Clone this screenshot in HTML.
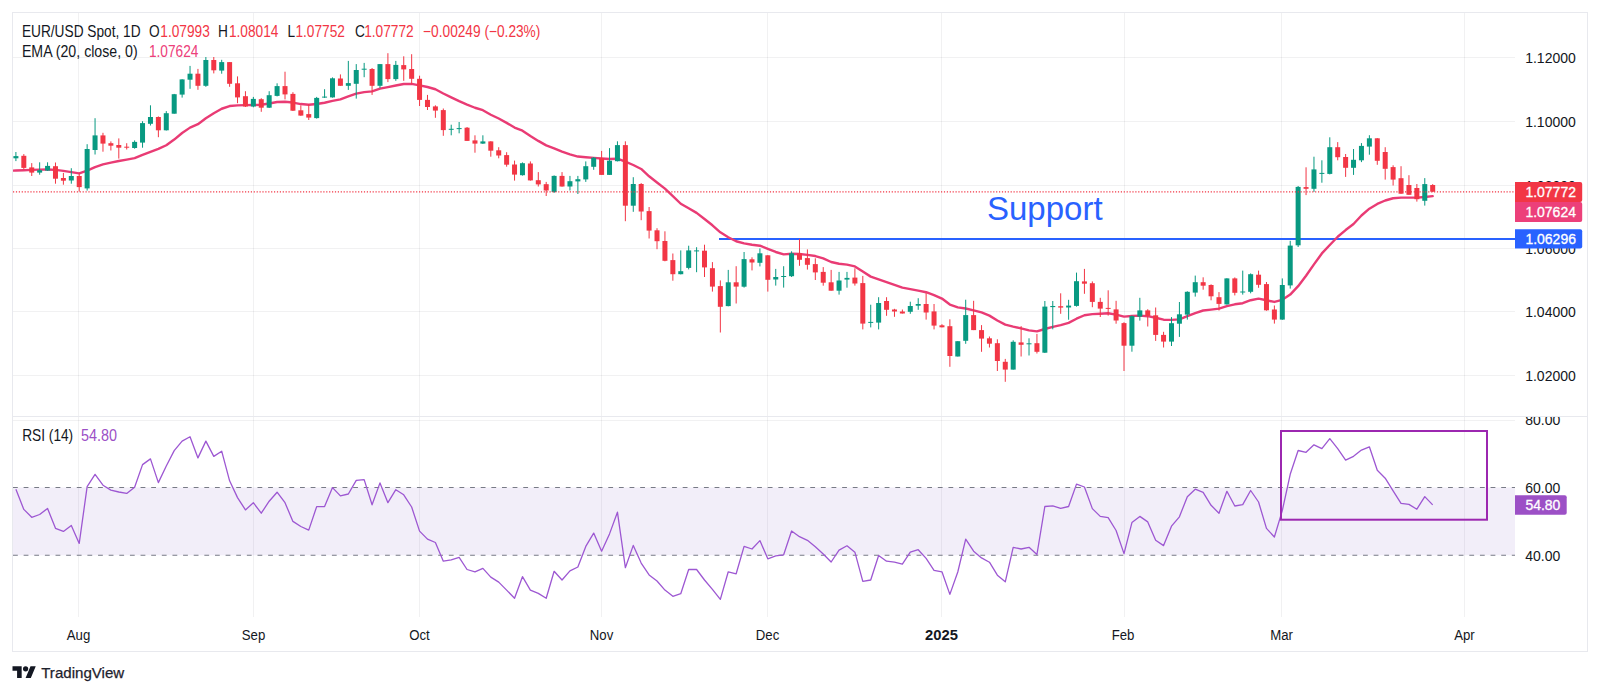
<!DOCTYPE html><html><head><meta charset="utf-8"><style>html,body{margin:0;padding:0;background:#fff;width:1600px;height:694px;overflow:hidden}svg{display:block}text{font-family:"Liberation Sans", sans-serif}</style></head><body>
<svg width="1600" height="694" viewBox="0 0 1600 694">
<rect x="0" y="0" width="1600" height="694" fill="#ffffff"/>
<defs><clipPath id="mp"><rect x="13" y="13" width="1502" height="403"/></clipPath><clipPath id="rp"><rect x="13" y="417" width="1502" height="200"/></clipPath><clipPath id="ap"><rect x="1515" y="417" width="72" height="200"/></clipPath></defs>
<line x1="13" y1="57.5" x2="1515" y2="57.5" stroke="rgba(42,46,57,0.065)" stroke-width="1"/>
<line x1="13" y1="121.5" x2="1515" y2="121.5" stroke="rgba(42,46,57,0.065)" stroke-width="1"/>
<line x1="13" y1="185.5" x2="1515" y2="185.5" stroke="rgba(42,46,57,0.065)" stroke-width="1"/>
<line x1="13" y1="248.5" x2="1515" y2="248.5" stroke="rgba(42,46,57,0.065)" stroke-width="1"/>
<line x1="13" y1="311.5" x2="1515" y2="311.5" stroke="rgba(42,46,57,0.065)" stroke-width="1"/>
<line x1="13" y1="375.5" x2="1515" y2="375.5" stroke="rgba(42,46,57,0.065)" stroke-width="1"/>
<line x1="78.5" y1="13" x2="78.5" y2="416" stroke="rgba(42,46,57,0.065)" stroke-width="1"/>
<line x1="78.5" y1="417" x2="78.5" y2="617" stroke="rgba(42,46,57,0.065)" stroke-width="1"/>
<line x1="253.5" y1="13" x2="253.5" y2="416" stroke="rgba(42,46,57,0.065)" stroke-width="1"/>
<line x1="253.5" y1="417" x2="253.5" y2="617" stroke="rgba(42,46,57,0.065)" stroke-width="1"/>
<line x1="419.5" y1="13" x2="419.5" y2="416" stroke="rgba(42,46,57,0.065)" stroke-width="1"/>
<line x1="419.5" y1="417" x2="419.5" y2="617" stroke="rgba(42,46,57,0.065)" stroke-width="1"/>
<line x1="601.5" y1="13" x2="601.5" y2="416" stroke="rgba(42,46,57,0.065)" stroke-width="1"/>
<line x1="601.5" y1="417" x2="601.5" y2="617" stroke="rgba(42,46,57,0.065)" stroke-width="1"/>
<line x1="767.5" y1="13" x2="767.5" y2="416" stroke="rgba(42,46,57,0.065)" stroke-width="1"/>
<line x1="767.5" y1="417" x2="767.5" y2="617" stroke="rgba(42,46,57,0.065)" stroke-width="1"/>
<line x1="941.5" y1="13" x2="941.5" y2="416" stroke="rgba(42,46,57,0.065)" stroke-width="1"/>
<line x1="941.5" y1="417" x2="941.5" y2="617" stroke="rgba(42,46,57,0.065)" stroke-width="1"/>
<line x1="1124.5" y1="13" x2="1124.5" y2="416" stroke="rgba(42,46,57,0.065)" stroke-width="1"/>
<line x1="1124.5" y1="417" x2="1124.5" y2="617" stroke="rgba(42,46,57,0.065)" stroke-width="1"/>
<line x1="1281.5" y1="13" x2="1281.5" y2="416" stroke="rgba(42,46,57,0.065)" stroke-width="1"/>
<line x1="1281.5" y1="417" x2="1281.5" y2="617" stroke="rgba(42,46,57,0.065)" stroke-width="1"/>
<line x1="1464.5" y1="13" x2="1464.5" y2="416" stroke="rgba(42,46,57,0.065)" stroke-width="1"/>
<line x1="1464.5" y1="417" x2="1464.5" y2="617" stroke="rgba(42,46,57,0.065)" stroke-width="1"/>
<rect x="13" y="487.5" width="1502" height="67.8" fill="#7e57c2" fill-opacity="0.1"/>
<line x1="13" y1="420.5" x2="1515" y2="420.5" stroke="rgba(42,46,57,0.065)" stroke-width="1"/>
<line x1="13" y1="487.5" x2="1515" y2="487.5" stroke="#787b86" stroke-width="1.1" stroke-dasharray="4.8 5.83"/>
<line x1="13" y1="555.3" x2="1515" y2="555.3" stroke="#787b86" stroke-width="1.1" stroke-dasharray="4.8 5.83"/>
<g clip-path="url(#mp)">
<line x1="719" y1="239" x2="1515" y2="239" stroke="#2962ff" stroke-width="2"/>
<polyline points="13.00,170.60 15.90,170.53 23.82,170.21 31.73,169.85 39.65,169.61 47.56,169.56 55.48,169.91 63.39,170.89 71.31,172.09 79.22,173.34 87.14,170.70 95.05,167.04 102.97,164.42 110.88,162.60 118.80,160.97 126.71,159.58 134.62,158.11 142.54,154.84 150.46,151.80 158.37,148.95 166.28,145.21 174.20,139.60 182.12,132.97 190.03,127.62 197.94,124.17 205.86,118.26 213.78,113.26 221.69,108.74 229.61,106.05 237.52,105.35 245.44,105.09 253.35,104.99 261.26,104.78 269.18,103.54 277.09,102.04 285.01,101.73 292.92,102.56 300.84,104.06 308.75,104.78 316.67,104.05 324.58,102.76 332.50,100.90 340.41,99.32 348.33,96.39 356.25,93.65 364.16,92.08 372.07,91.40 379.99,88.67 387.90,87.11 395.82,85.54 403.73,84.00 411.65,83.84 419.56,85.34 427.48,86.99 435.39,89.26 443.31,93.48 451.22,97.35 459.14,101.20 467.06,104.70 474.97,107.75 482.88,110.18 490.80,114.72 498.71,118.52 506.63,122.86 514.54,127.59 522.46,130.65 530.38,135.96 538.29,140.90 546.20,145.41 554.12,148.32 562.03,151.61 569.95,154.45 577.87,156.57 585.78,157.23 593.69,157.88 601.61,158.47 609.52,158.97 617.44,158.72 625.36,161.72 633.27,164.99 641.18,168.97 649.10,176.27 657.01,182.47 664.93,188.65 672.85,196.08 680.76,203.75 688.67,208.29 696.59,212.91 704.50,219.05 712.42,225.29 720.34,232.32 728.25,237.20 736.16,241.24 744.08,243.40 752.00,244.79 759.91,245.70 767.82,248.80 775.74,251.98 783.65,254.38 791.57,253.79 799.49,254.05 807.40,254.91 815.31,256.03 823.23,258.46 831.14,262.01 839.06,263.79 846.98,264.66 854.89,266.42 862.80,271.56 870.72,276.62 878.63,279.41 886.55,282.19 894.47,284.99 902.38,287.68 910.29,289.15 918.21,290.57 926.12,292.21 934.04,295.09 941.95,298.55 949.87,304.56 957.78,307.32 965.70,308.51 973.62,310.32 981.53,312.46 989.44,315.62 997.36,320.47 1005.27,324.58 1013.19,326.57 1021.11,328.37 1029.02,330.38 1036.93,331.39 1044.85,329.02 1052.77,326.88 1060.68,325.06 1068.60,322.81 1076.51,318.72 1084.43,315.24 1092.34,314.17 1100.26,313.70 1108.17,313.28 1116.09,314.66 1124.00,316.66 1131.92,315.95 1139.83,315.67 1147.75,316.18 1155.66,317.75 1163.58,319.70 1171.49,319.85 1179.41,319.37 1187.32,316.20 1195.24,313.02 1203.15,310.49 1211.07,309.62 1218.98,308.61 1226.90,306.09 1234.81,304.30 1242.73,303.23 1250.64,300.21 1258.56,298.63 1266.47,300.29 1274.38,301.94 1282.30,299.80 1290.22,294.61 1298.13,286.19 1306.05,275.72 1313.96,264.38 1321.88,253.44 1329.79,244.98 1337.71,236.76 1345.62,230.04 1353.54,224.00 1361.45,215.48 1369.37,208.71 1377.28,203.95 1385.20,200.49 1393.11,198.26 1401.03,197.60 1408.94,197.60 1416.86,197.61 1424.77,196.94 1432.69,196.10" fill="none" stroke="#e93b74" stroke-width="2.4" stroke-linejoin="round" stroke-linecap="round"/>
<rect x="15.40" y="152.0" width="1" height="9.1" fill="#089981"/>
<rect x="13.40" y="156.1" width="5" height="2.2" fill="#089981"/>
<rect x="23.32" y="154.1" width="1" height="15.3" fill="#f23645"/>
<rect x="21.32" y="155.8" width="5" height="12.1" fill="#f23645"/>
<rect x="31.23" y="163.1" width="1" height="12.9" fill="#f23645"/>
<rect x="29.23" y="167.4" width="5" height="5.2" fill="#f23645"/>
<rect x="39.15" y="162.3" width="1" height="12.4" fill="#089981"/>
<rect x="37.15" y="170.2" width="5" height="2.4" fill="#089981"/>
<rect x="47.06" y="162.3" width="1" height="8.6" fill="#089981"/>
<rect x="45.06" y="165.9" width="5" height="4.7" fill="#089981"/>
<rect x="54.98" y="162.5" width="1" height="21.2" fill="#f23645"/>
<rect x="52.98" y="166.2" width="5" height="12.5" fill="#f23645"/>
<rect x="62.89" y="172.9" width="1" height="11.8" fill="#f23645"/>
<rect x="60.89" y="178.0" width="5" height="2.7" fill="#f23645"/>
<rect x="70.81" y="168.2" width="1" height="15.5" fill="#089981"/>
<rect x="68.81" y="176.0" width="5" height="4.5" fill="#089981"/>
<rect x="78.72" y="173.2" width="1" height="18.4" fill="#f23645"/>
<rect x="76.72" y="176.0" width="5" height="11.1" fill="#f23645"/>
<rect x="86.64" y="144.2" width="1" height="46.4" fill="#089981"/>
<rect x="84.64" y="149.0" width="5" height="39.4" fill="#089981"/>
<rect x="94.55" y="118.2" width="1" height="36.3" fill="#089981"/>
<rect x="92.55" y="135.4" width="5" height="14.6" fill="#089981"/>
<rect x="102.47" y="132.8" width="1" height="18.9" fill="#f23645"/>
<rect x="100.47" y="135.4" width="5" height="8.2" fill="#f23645"/>
<rect x="110.38" y="141.4" width="1" height="9.1" fill="#f23645"/>
<rect x="108.38" y="143.2" width="5" height="2.5" fill="#f23645"/>
<rect x="118.30" y="138.4" width="1" height="20.2" fill="#f23645"/>
<rect x="116.30" y="145.0" width="5" height="2.7" fill="#f23645"/>
<rect x="126.21" y="143.2" width="1" height="6.3" fill="#f23645"/>
<rect x="124.21" y="146.7" width="5" height="1.0" fill="#f23645"/>
<rect x="134.12" y="140.4" width="1" height="8.3" fill="#089981"/>
<rect x="132.12" y="141.9" width="5" height="6.1" fill="#089981"/>
<rect x="142.04" y="121.2" width="1" height="26.5" fill="#089981"/>
<rect x="140.04" y="123.1" width="5" height="19.5" fill="#089981"/>
<rect x="149.96" y="105.3" width="1" height="20.2" fill="#089981"/>
<rect x="147.96" y="117.0" width="5" height="6.8" fill="#089981"/>
<rect x="157.87" y="116.4" width="1" height="20.8" fill="#f23645"/>
<rect x="155.87" y="117.0" width="5" height="13.3" fill="#f23645"/>
<rect x="165.78" y="111.1" width="1" height="19.4" fill="#089981"/>
<rect x="163.78" y="113.2" width="5" height="17.1" fill="#089981"/>
<rect x="173.70" y="93.9" width="1" height="19.8" fill="#089981"/>
<rect x="171.70" y="94.2" width="5" height="19.5" fill="#089981"/>
<rect x="181.62" y="79.2" width="1" height="18.4" fill="#089981"/>
<rect x="179.62" y="79.4" width="5" height="15.2" fill="#089981"/>
<rect x="189.53" y="65.9" width="1" height="22.9" fill="#089981"/>
<rect x="187.53" y="73.7" width="5" height="6.0" fill="#089981"/>
<rect x="197.44" y="68.9" width="1" height="20.9" fill="#f23645"/>
<rect x="195.44" y="73.7" width="5" height="12.1" fill="#f23645"/>
<rect x="205.36" y="57.0" width="1" height="29.8" fill="#089981"/>
<rect x="203.36" y="60.0" width="5" height="25.8" fill="#089981"/>
<rect x="213.28" y="57.0" width="1" height="16.4" fill="#f23645"/>
<rect x="211.28" y="60.0" width="5" height="10.3" fill="#f23645"/>
<rect x="221.19" y="59.8" width="1" height="13.9" fill="#089981"/>
<rect x="219.19" y="62.1" width="5" height="8.5" fill="#089981"/>
<rect x="229.11" y="62.1" width="1" height="24.7" fill="#f23645"/>
<rect x="227.11" y="62.1" width="5" height="21.7" fill="#f23645"/>
<rect x="237.02" y="76.4" width="1" height="26.8" fill="#f23645"/>
<rect x="235.02" y="83.3" width="5" height="14.1" fill="#f23645"/>
<rect x="244.94" y="91.2" width="1" height="15.8" fill="#f23645"/>
<rect x="242.94" y="96.2" width="5" height="10.3" fill="#f23645"/>
<rect x="252.85" y="96.9" width="1" height="10.4" fill="#089981"/>
<rect x="250.85" y="98.9" width="5" height="7.6" fill="#089981"/>
<rect x="260.76" y="98.2" width="1" height="13.6" fill="#f23645"/>
<rect x="258.76" y="99.2" width="5" height="8.5" fill="#f23645"/>
<rect x="268.68" y="91.2" width="1" height="16.8" fill="#089981"/>
<rect x="266.68" y="95.2" width="5" height="12.5" fill="#089981"/>
<rect x="276.59" y="83.3" width="1" height="13.1" fill="#089981"/>
<rect x="274.59" y="86.1" width="5" height="9.8" fill="#089981"/>
<rect x="284.51" y="71.7" width="1" height="27.7" fill="#f23645"/>
<rect x="282.51" y="86.1" width="5" height="8.3" fill="#f23645"/>
<rect x="292.42" y="92.2" width="1" height="18.8" fill="#f23645"/>
<rect x="290.42" y="93.9" width="5" height="16.8" fill="#f23645"/>
<rect x="300.34" y="105.3" width="1" height="10.5" fill="#f23645"/>
<rect x="298.34" y="110.3" width="5" height="5.3" fill="#f23645"/>
<rect x="308.25" y="104.0" width="1" height="16.0" fill="#f23645"/>
<rect x="306.25" y="114.1" width="5" height="3.5" fill="#f23645"/>
<rect x="316.17" y="96.9" width="1" height="21.7" fill="#089981"/>
<rect x="314.17" y="97.9" width="5" height="20.2" fill="#089981"/>
<rect x="324.08" y="89.2" width="1" height="8.7" fill="#089981"/>
<rect x="322.08" y="96.6" width="5" height="1.0" fill="#089981"/>
<rect x="332.00" y="77.4" width="1" height="20.2" fill="#089981"/>
<rect x="330.00" y="78.3" width="5" height="19.1" fill="#089981"/>
<rect x="339.91" y="74.4" width="1" height="11.4" fill="#f23645"/>
<rect x="337.91" y="78.5" width="5" height="7.3" fill="#f23645"/>
<rect x="347.83" y="60.9" width="1" height="29.0" fill="#089981"/>
<rect x="345.83" y="83.1" width="5" height="2.7" fill="#089981"/>
<rect x="355.75" y="64.1" width="1" height="34.5" fill="#089981"/>
<rect x="353.75" y="70.0" width="5" height="13.8" fill="#089981"/>
<rect x="363.66" y="62.9" width="1" height="14.3" fill="#089981"/>
<rect x="361.66" y="68.7" width="5" height="1.0" fill="#089981"/>
<rect x="371.57" y="68.0" width="1" height="26.9" fill="#f23645"/>
<rect x="369.57" y="69.0" width="5" height="16.8" fill="#f23645"/>
<rect x="379.49" y="64.1" width="1" height="24.0" fill="#089981"/>
<rect x="377.49" y="64.1" width="5" height="21.7" fill="#089981"/>
<rect x="387.40" y="53.2" width="1" height="28.9" fill="#f23645"/>
<rect x="385.40" y="64.1" width="5" height="15.0" fill="#f23645"/>
<rect x="395.32" y="60.9" width="1" height="19.9" fill="#089981"/>
<rect x="393.32" y="64.9" width="5" height="14.2" fill="#089981"/>
<rect x="403.23" y="56.3" width="1" height="24.5" fill="#f23645"/>
<rect x="401.23" y="65.1" width="5" height="4.3" fill="#f23645"/>
<rect x="411.15" y="54.2" width="1" height="30.1" fill="#f23645"/>
<rect x="409.15" y="69.0" width="5" height="9.8" fill="#f23645"/>
<rect x="419.06" y="75.7" width="1" height="30.3" fill="#f23645"/>
<rect x="417.06" y="78.8" width="5" height="21.1" fill="#f23645"/>
<rect x="426.98" y="94.9" width="1" height="15.1" fill="#f23645"/>
<rect x="424.98" y="99.9" width="5" height="7.1" fill="#f23645"/>
<rect x="434.89" y="105.3" width="1" height="12.5" fill="#f23645"/>
<rect x="432.89" y="106.4" width="5" height="4.2" fill="#f23645"/>
<rect x="442.81" y="108.5" width="1" height="27.3" fill="#f23645"/>
<rect x="440.81" y="110.1" width="5" height="20.0" fill="#f23645"/>
<rect x="450.72" y="124.7" width="1" height="10.6" fill="#089981"/>
<rect x="448.72" y="128.8" width="5" height="1.0" fill="#089981"/>
<rect x="458.64" y="122.0" width="1" height="11.3" fill="#089981"/>
<rect x="456.64" y="128.1" width="5" height="1.0" fill="#089981"/>
<rect x="466.56" y="127.0" width="1" height="13.9" fill="#f23645"/>
<rect x="464.56" y="127.7" width="5" height="13.2" fill="#f23645"/>
<rect x="474.47" y="135.3" width="1" height="17.4" fill="#f23645"/>
<rect x="472.47" y="140.4" width="5" height="3.2" fill="#f23645"/>
<rect x="482.38" y="135.3" width="1" height="8.6" fill="#089981"/>
<rect x="480.38" y="141.4" width="5" height="2.2" fill="#089981"/>
<rect x="490.30" y="141.2" width="1" height="15.5" fill="#f23645"/>
<rect x="488.30" y="141.4" width="5" height="9.3" fill="#f23645"/>
<rect x="498.21" y="147.2" width="1" height="11.1" fill="#f23645"/>
<rect x="496.21" y="150.3" width="5" height="5.2" fill="#f23645"/>
<rect x="506.13" y="152.2" width="1" height="14.5" fill="#f23645"/>
<rect x="504.13" y="155.1" width="5" height="9.6" fill="#f23645"/>
<rect x="514.04" y="160.6" width="1" height="20.0" fill="#f23645"/>
<rect x="512.04" y="164.5" width="5" height="10.1" fill="#f23645"/>
<rect x="521.96" y="162.4" width="1" height="13.2" fill="#089981"/>
<rect x="519.96" y="163.2" width="5" height="12.0" fill="#089981"/>
<rect x="529.88" y="161.4" width="1" height="19.2" fill="#f23645"/>
<rect x="527.88" y="163.5" width="5" height="16.9" fill="#f23645"/>
<rect x="537.79" y="172.1" width="1" height="14.4" fill="#f23645"/>
<rect x="535.79" y="180.2" width="5" height="4.2" fill="#f23645"/>
<rect x="545.70" y="181.9" width="1" height="14.1" fill="#f23645"/>
<rect x="543.70" y="184.2" width="5" height="6.3" fill="#f23645"/>
<rect x="553.62" y="175.4" width="1" height="17.6" fill="#089981"/>
<rect x="551.62" y="175.9" width="5" height="16.1" fill="#089981"/>
<rect x="561.53" y="172.1" width="1" height="14.6" fill="#f23645"/>
<rect x="559.53" y="175.9" width="5" height="10.6" fill="#f23645"/>
<rect x="569.45" y="175.9" width="1" height="14.6" fill="#089981"/>
<rect x="567.45" y="181.2" width="5" height="5.3" fill="#089981"/>
<rect x="577.37" y="175.9" width="1" height="18.1" fill="#089981"/>
<rect x="575.37" y="179.2" width="5" height="2.2" fill="#089981"/>
<rect x="585.28" y="161.4" width="1" height="20.5" fill="#089981"/>
<rect x="583.28" y="166.2" width="5" height="13.2" fill="#089981"/>
<rect x="593.19" y="157.0" width="1" height="12.8" fill="#089981"/>
<rect x="591.19" y="157.7" width="5" height="9.1" fill="#089981"/>
<rect x="601.11" y="150.9" width="1" height="24.0" fill="#f23645"/>
<rect x="599.11" y="158.2" width="5" height="16.7" fill="#f23645"/>
<rect x="609.02" y="148.1" width="1" height="26.8" fill="#089981"/>
<rect x="607.02" y="160.7" width="5" height="14.2" fill="#089981"/>
<rect x="616.94" y="141.3" width="1" height="20.1" fill="#089981"/>
<rect x="614.94" y="145.1" width="5" height="16.1" fill="#089981"/>
<rect x="624.86" y="141.3" width="1" height="79.9" fill="#f23645"/>
<rect x="622.86" y="145.1" width="5" height="60.6" fill="#f23645"/>
<rect x="632.77" y="177.2" width="1" height="34.6" fill="#089981"/>
<rect x="630.77" y="184.0" width="5" height="21.7" fill="#089981"/>
<rect x="640.68" y="183.1" width="1" height="37.1" fill="#f23645"/>
<rect x="638.68" y="184.0" width="5" height="27.5" fill="#f23645"/>
<rect x="648.60" y="207.0" width="1" height="31.5" fill="#f23645"/>
<rect x="646.60" y="211.1" width="5" height="19.5" fill="#f23645"/>
<rect x="656.51" y="228.2" width="1" height="21.0" fill="#f23645"/>
<rect x="654.51" y="230.3" width="5" height="10.9" fill="#f23645"/>
<rect x="664.43" y="231.3" width="1" height="30.0" fill="#f23645"/>
<rect x="662.43" y="241.0" width="5" height="19.8" fill="#f23645"/>
<rect x="672.35" y="253.5" width="1" height="27.2" fill="#f23645"/>
<rect x="670.35" y="260.1" width="5" height="14.1" fill="#f23645"/>
<rect x="680.26" y="250.4" width="1" height="24.0" fill="#089981"/>
<rect x="678.26" y="271.2" width="5" height="3.0" fill="#089981"/>
<rect x="688.17" y="245.7" width="1" height="23.7" fill="#089981"/>
<rect x="686.17" y="250.4" width="5" height="17.5" fill="#089981"/>
<rect x="696.09" y="247.2" width="1" height="25.0" fill="#089981"/>
<rect x="694.09" y="250.4" width="5" height="1.0" fill="#089981"/>
<rect x="704.00" y="244.7" width="1" height="32.3" fill="#f23645"/>
<rect x="702.00" y="250.7" width="5" height="16.7" fill="#f23645"/>
<rect x="711.92" y="262.1" width="1" height="29.5" fill="#f23645"/>
<rect x="709.92" y="268.2" width="5" height="18.4" fill="#f23645"/>
<rect x="719.84" y="280.4" width="1" height="52.1" fill="#f23645"/>
<rect x="717.84" y="286.1" width="5" height="20.7" fill="#f23645"/>
<rect x="727.75" y="269.9" width="1" height="36.4" fill="#089981"/>
<rect x="725.75" y="282.3" width="5" height="23.8" fill="#089981"/>
<rect x="735.66" y="266.2" width="1" height="37.3" fill="#f23645"/>
<rect x="733.66" y="282.3" width="5" height="4.3" fill="#f23645"/>
<rect x="743.58" y="252.0" width="1" height="35.6" fill="#089981"/>
<rect x="741.58" y="259.1" width="5" height="27.6" fill="#089981"/>
<rect x="751.50" y="257.3" width="1" height="13.1" fill="#f23645"/>
<rect x="749.50" y="259.3" width="5" height="3.2" fill="#f23645"/>
<rect x="759.41" y="248.4" width="1" height="18.0" fill="#089981"/>
<rect x="757.41" y="253.3" width="5" height="9.5" fill="#089981"/>
<rect x="767.32" y="255.1" width="1" height="36.5" fill="#f23645"/>
<rect x="765.32" y="255.3" width="5" height="24.5" fill="#f23645"/>
<rect x="775.24" y="268.9" width="1" height="16.7" fill="#089981"/>
<rect x="773.24" y="277.0" width="5" height="2.5" fill="#089981"/>
<rect x="783.15" y="266.2" width="1" height="21.4" fill="#089981"/>
<rect x="781.15" y="276.0" width="5" height="1.0" fill="#089981"/>
<rect x="791.07" y="251.3" width="1" height="25.7" fill="#089981"/>
<rect x="789.07" y="253.3" width="5" height="22.9" fill="#089981"/>
<rect x="798.99" y="238.9" width="1" height="26.9" fill="#f23645"/>
<rect x="796.99" y="253.4" width="5" height="6.4" fill="#f23645"/>
<rect x="806.90" y="249.4" width="1" height="20.2" fill="#f23645"/>
<rect x="804.90" y="258.1" width="5" height="6.7" fill="#f23645"/>
<rect x="814.81" y="258.3" width="1" height="21.7" fill="#f23645"/>
<rect x="812.81" y="264.1" width="5" height="8.3" fill="#f23645"/>
<rect x="822.73" y="267.1" width="1" height="18.6" fill="#f23645"/>
<rect x="820.73" y="271.9" width="5" height="10.8" fill="#f23645"/>
<rect x="830.64" y="269.9" width="1" height="20.8" fill="#f23645"/>
<rect x="828.64" y="282.3" width="5" height="8.4" fill="#f23645"/>
<rect x="838.56" y="271.9" width="1" height="22.7" fill="#089981"/>
<rect x="836.56" y="280.5" width="5" height="10.2" fill="#089981"/>
<rect x="846.48" y="271.9" width="1" height="15.8" fill="#089981"/>
<rect x="844.48" y="277.9" width="5" height="1.7" fill="#089981"/>
<rect x="854.39" y="268.3" width="1" height="17.3" fill="#f23645"/>
<rect x="852.39" y="277.6" width="5" height="5.9" fill="#f23645"/>
<rect x="862.30" y="275.9" width="1" height="53.5" fill="#f23645"/>
<rect x="860.30" y="283.1" width="5" height="40.5" fill="#f23645"/>
<rect x="870.22" y="304.7" width="1" height="22.7" fill="#089981"/>
<rect x="868.22" y="321.9" width="5" height="1.0" fill="#089981"/>
<rect x="878.13" y="297.2" width="1" height="32.2" fill="#089981"/>
<rect x="876.13" y="303.0" width="5" height="19.6" fill="#089981"/>
<rect x="886.05" y="297.2" width="1" height="18.6" fill="#f23645"/>
<rect x="884.05" y="301.0" width="5" height="8.8" fill="#f23645"/>
<rect x="893.97" y="308.8" width="1" height="8.0" fill="#f23645"/>
<rect x="891.97" y="309.5" width="5" height="2.0" fill="#f23645"/>
<rect x="901.88" y="309.5" width="1" height="4.0" fill="#f23645"/>
<rect x="899.88" y="311.5" width="5" height="2.0" fill="#f23645"/>
<rect x="909.79" y="301.7" width="1" height="12.1" fill="#089981"/>
<rect x="907.79" y="306.0" width="5" height="5.8" fill="#089981"/>
<rect x="917.71" y="298.2" width="1" height="11.6" fill="#089981"/>
<rect x="915.71" y="304.0" width="5" height="1.7" fill="#089981"/>
<rect x="925.62" y="293.1" width="1" height="26.5" fill="#f23645"/>
<rect x="923.62" y="304.0" width="5" height="8.5" fill="#f23645"/>
<rect x="933.54" y="304.0" width="1" height="25.4" fill="#f23645"/>
<rect x="931.54" y="311.4" width="5" height="14.2" fill="#f23645"/>
<rect x="941.45" y="324.2" width="1" height="3.2" fill="#f23645"/>
<rect x="939.45" y="325.3" width="5" height="2.0" fill="#f23645"/>
<rect x="949.37" y="319.3" width="1" height="47.5" fill="#f23645"/>
<rect x="947.37" y="326.2" width="5" height="29.8" fill="#f23645"/>
<rect x="957.28" y="341.2" width="1" height="15.3" fill="#089981"/>
<rect x="955.28" y="341.2" width="5" height="15.3" fill="#089981"/>
<rect x="965.20" y="299.7" width="1" height="44.1" fill="#089981"/>
<rect x="963.20" y="315.1" width="5" height="25.7" fill="#089981"/>
<rect x="973.12" y="300.8" width="1" height="29.3" fill="#f23645"/>
<rect x="971.12" y="315.1" width="5" height="15.0" fill="#f23645"/>
<rect x="981.03" y="325.1" width="1" height="26.7" fill="#f23645"/>
<rect x="979.03" y="330.1" width="5" height="8.5" fill="#f23645"/>
<rect x="988.94" y="336.5" width="1" height="11.0" fill="#f23645"/>
<rect x="986.94" y="338.3" width="5" height="5.4" fill="#f23645"/>
<rect x="996.86" y="339.3" width="1" height="31.7" fill="#f23645"/>
<rect x="994.86" y="343.2" width="5" height="17.8" fill="#f23645"/>
<rect x="1004.77" y="358.9" width="1" height="22.9" fill="#f23645"/>
<rect x="1002.77" y="361.8" width="5" height="7.8" fill="#f23645"/>
<rect x="1012.69" y="340.3" width="1" height="29.3" fill="#089981"/>
<rect x="1010.69" y="341.8" width="5" height="27.8" fill="#089981"/>
<rect x="1020.61" y="326.1" width="1" height="30.4" fill="#f23645"/>
<rect x="1018.61" y="342.4" width="5" height="2.4" fill="#f23645"/>
<rect x="1028.52" y="338.3" width="1" height="17.2" fill="#089981"/>
<rect x="1026.52" y="343.3" width="5" height="1.0" fill="#089981"/>
<rect x="1036.43" y="333.9" width="1" height="19.6" fill="#f23645"/>
<rect x="1034.43" y="343.2" width="5" height="8.6" fill="#f23645"/>
<rect x="1044.35" y="301.0" width="1" height="52.0" fill="#089981"/>
<rect x="1042.35" y="306.6" width="5" height="46.1" fill="#089981"/>
<rect x="1052.27" y="301.0" width="1" height="28.3" fill="#089981"/>
<rect x="1050.27" y="306.0" width="5" height="1.1" fill="#089981"/>
<rect x="1060.18" y="293.3" width="1" height="20.5" fill="#f23645"/>
<rect x="1058.18" y="306.2" width="5" height="1.4" fill="#f23645"/>
<rect x="1068.10" y="299.8" width="1" height="19.9" fill="#089981"/>
<rect x="1066.10" y="305.6" width="5" height="1.9" fill="#089981"/>
<rect x="1076.01" y="272.6" width="1" height="34.0" fill="#089981"/>
<rect x="1074.01" y="281.2" width="5" height="24.7" fill="#089981"/>
<rect x="1083.93" y="268.9" width="1" height="24.9" fill="#f23645"/>
<rect x="1081.93" y="281.4" width="5" height="2.3" fill="#f23645"/>
<rect x="1091.84" y="281.4" width="1" height="25.8" fill="#f23645"/>
<rect x="1089.84" y="283.2" width="5" height="18.7" fill="#f23645"/>
<rect x="1099.76" y="297.8" width="1" height="19.2" fill="#f23645"/>
<rect x="1097.76" y="301.9" width="5" height="6.7" fill="#f23645"/>
<rect x="1107.67" y="290.3" width="1" height="25.3" fill="#f23645"/>
<rect x="1105.67" y="307.9" width="5" height="1.0" fill="#f23645"/>
<rect x="1115.59" y="300.8" width="1" height="22.9" fill="#f23645"/>
<rect x="1113.59" y="309.4" width="5" height="11.1" fill="#f23645"/>
<rect x="1123.50" y="322.2" width="1" height="48.8" fill="#f23645"/>
<rect x="1121.50" y="323.1" width="5" height="22.6" fill="#f23645"/>
<rect x="1131.42" y="315.5" width="1" height="36.2" fill="#089981"/>
<rect x="1129.42" y="316.1" width="5" height="29.6" fill="#089981"/>
<rect x="1139.33" y="297.8" width="1" height="22.8" fill="#089981"/>
<rect x="1137.33" y="310.4" width="5" height="6.2" fill="#089981"/>
<rect x="1147.25" y="309.2" width="1" height="17.3" fill="#f23645"/>
<rect x="1145.25" y="310.4" width="5" height="5.5" fill="#f23645"/>
<rect x="1155.16" y="307.5" width="1" height="33.4" fill="#f23645"/>
<rect x="1153.16" y="315.3" width="5" height="19.6" fill="#f23645"/>
<rect x="1163.08" y="331.8" width="1" height="15.7" fill="#f23645"/>
<rect x="1161.08" y="334.9" width="5" height="6.7" fill="#f23645"/>
<rect x="1170.99" y="317.1" width="1" height="28.9" fill="#089981"/>
<rect x="1168.99" y="323.2" width="5" height="18.4" fill="#089981"/>
<rect x="1178.91" y="302.0" width="1" height="34.9" fill="#089981"/>
<rect x="1176.91" y="314.3" width="5" height="9.4" fill="#089981"/>
<rect x="1186.82" y="291.3" width="1" height="28.3" fill="#089981"/>
<rect x="1184.82" y="291.8" width="5" height="22.8" fill="#089981"/>
<rect x="1194.74" y="275.6" width="1" height="21.0" fill="#089981"/>
<rect x="1192.74" y="282.2" width="5" height="10.4" fill="#089981"/>
<rect x="1202.65" y="277.3" width="1" height="12.4" fill="#f23645"/>
<rect x="1200.65" y="282.2" width="5" height="3.5" fill="#f23645"/>
<rect x="1210.57" y="284.3" width="1" height="16.0" fill="#f23645"/>
<rect x="1208.57" y="285.0" width="5" height="11.3" fill="#f23645"/>
<rect x="1218.48" y="292.1" width="1" height="18.4" fill="#f23645"/>
<rect x="1216.48" y="297.2" width="5" height="6.7" fill="#f23645"/>
<rect x="1226.40" y="278.2" width="1" height="26.4" fill="#089981"/>
<rect x="1224.40" y="278.4" width="5" height="26.0" fill="#089981"/>
<rect x="1234.31" y="277.4" width="1" height="18.0" fill="#f23645"/>
<rect x="1232.31" y="278.4" width="5" height="14.4" fill="#f23645"/>
<rect x="1242.23" y="270.6" width="1" height="24.0" fill="#089981"/>
<rect x="1240.23" y="291.5" width="5" height="1.0" fill="#089981"/>
<rect x="1250.14" y="273.4" width="1" height="19.9" fill="#089981"/>
<rect x="1248.14" y="274.2" width="5" height="17.6" fill="#089981"/>
<rect x="1258.06" y="270.6" width="1" height="17.2" fill="#f23645"/>
<rect x="1256.06" y="274.7" width="5" height="10.1" fill="#f23645"/>
<rect x="1265.97" y="282.0" width="1" height="28.7" fill="#f23645"/>
<rect x="1263.97" y="284.1" width="5" height="26.2" fill="#f23645"/>
<rect x="1273.88" y="305.5" width="1" height="18.1" fill="#f23645"/>
<rect x="1271.88" y="309.5" width="5" height="10.1" fill="#f23645"/>
<rect x="1281.80" y="278.4" width="1" height="41.4" fill="#089981"/>
<rect x="1279.80" y="285.0" width="5" height="34.6" fill="#089981"/>
<rect x="1289.72" y="240.8" width="1" height="47.8" fill="#089981"/>
<rect x="1287.72" y="245.6" width="5" height="39.8" fill="#089981"/>
<rect x="1297.63" y="186.0" width="1" height="61.0" fill="#089981"/>
<rect x="1295.63" y="186.9" width="5" height="58.4" fill="#089981"/>
<rect x="1305.55" y="167.3" width="1" height="27.8" fill="#f23645"/>
<rect x="1303.55" y="187.1" width="5" height="1.7" fill="#f23645"/>
<rect x="1313.46" y="156.7" width="1" height="35.2" fill="#089981"/>
<rect x="1311.46" y="169.4" width="5" height="19.4" fill="#089981"/>
<rect x="1321.38" y="160.3" width="1" height="22.4" fill="#089981"/>
<rect x="1319.38" y="172.9" width="5" height="1.0" fill="#089981"/>
<rect x="1329.29" y="137.3" width="1" height="37.1" fill="#089981"/>
<rect x="1327.29" y="147.2" width="5" height="26.7" fill="#089981"/>
<rect x="1337.21" y="142.1" width="1" height="18.2" fill="#f23645"/>
<rect x="1335.21" y="147.2" width="5" height="10.0" fill="#f23645"/>
<rect x="1345.12" y="154.0" width="1" height="22.9" fill="#f23645"/>
<rect x="1343.12" y="157.0" width="5" height="10.8" fill="#f23645"/>
<rect x="1353.04" y="149.0" width="1" height="25.9" fill="#089981"/>
<rect x="1351.04" y="159.8" width="5" height="8.0" fill="#089981"/>
<rect x="1360.95" y="143.1" width="1" height="19.0" fill="#089981"/>
<rect x="1358.95" y="145.9" width="5" height="14.4" fill="#089981"/>
<rect x="1368.87" y="135.2" width="1" height="19.5" fill="#089981"/>
<rect x="1366.87" y="138.3" width="5" height="8.3" fill="#089981"/>
<rect x="1376.78" y="138.1" width="1" height="26.7" fill="#f23645"/>
<rect x="1374.78" y="138.3" width="5" height="22.5" fill="#f23645"/>
<rect x="1384.70" y="147.2" width="1" height="32.4" fill="#f23645"/>
<rect x="1382.70" y="152.0" width="5" height="16.8" fill="#f23645"/>
<rect x="1392.61" y="165.3" width="1" height="20.2" fill="#f23645"/>
<rect x="1390.61" y="167.1" width="5" height="12.5" fill="#f23645"/>
<rect x="1400.53" y="166.2" width="1" height="27.6" fill="#f23645"/>
<rect x="1398.53" y="178.2" width="5" height="15.5" fill="#f23645"/>
<rect x="1408.44" y="175.2" width="1" height="19.6" fill="#f23645"/>
<rect x="1406.44" y="185.0" width="5" height="9.8" fill="#f23645"/>
<rect x="1416.36" y="184.0" width="1" height="17.6" fill="#f23645"/>
<rect x="1414.36" y="188.0" width="5" height="11.2" fill="#f23645"/>
<rect x="1424.27" y="178.1" width="1" height="27.5" fill="#089981"/>
<rect x="1422.27" y="184.1" width="5" height="16.7" fill="#089981"/>
<rect x="1432.19" y="184.1" width="1" height="8.0" fill="#f23645"/>
<rect x="1430.19" y="185.0" width="5" height="6.7" fill="#f23645"/>
<line x1="13" y1="191.9" x2="1515" y2="191.9" stroke="#f23645" stroke-width="1.4" stroke-dasharray="1.2 1.7"/>
</g>
<g clip-path="url(#rp)">
<polyline points="15.90,489.3 23.82,509.4 31.73,517.3 39.65,514.5 47.56,508.4 55.48,528.3 63.39,531.4 71.31,525.4 79.22,543.4 87.14,486.7 95.05,474.4 102.97,485.2 110.88,490.1 118.80,492.0 126.71,493.4 134.62,487.2 142.54,464.6 150.46,458.9 158.37,482.6 166.28,466.0 174.20,450.6 182.12,441.1 190.03,436.8 197.94,457.9 205.86,441.1 213.78,456.4 221.69,451.2 229.61,480.8 237.52,497.6 245.44,509.9 253.35,502.7 261.26,513.2 269.18,501.2 277.09,492.2 285.01,502.7 292.92,521.4 300.84,526.5 308.75,530.1 316.67,506.6 324.58,506.6 332.50,487.6 340.41,495.9 348.33,494.0 356.25,480.3 364.16,479.6 372.07,504.8 379.99,482.9 387.90,502.7 395.82,489.7 403.73,494.8 411.65,507.0 419.56,531.1 427.48,539.1 435.39,542.5 443.31,561.2 451.22,559.8 459.14,557.3 467.06,569.5 474.97,571.8 482.88,568.4 490.80,577.1 498.71,582.1 506.63,590.1 514.54,598.3 522.46,576.7 530.38,590.1 538.29,593.4 546.20,598.3 554.12,571.3 562.03,580.0 569.95,570.9 577.87,567.0 585.78,546.4 593.69,533.1 601.61,551.2 609.52,533.9 617.44,512.2 625.36,567.7 633.27,545.4 641.18,563.1 649.10,574.9 657.01,581.0 664.93,590.1 672.85,596.3 680.76,593.7 688.67,569.5 696.59,569.5 704.50,580.0 712.42,589.3 720.34,599.4 728.25,571.8 736.16,573.8 744.08,546.4 752.00,549.0 759.91,540.6 767.82,558.8 775.74,555.9 783.65,554.8 791.57,531.0 799.49,536.7 807.40,540.3 815.31,546.8 823.23,554.0 831.14,562.0 839.06,550.1 846.98,545.8 854.89,552.2 862.80,581.4 870.72,580.0 878.63,555.5 886.55,561.2 894.47,562.2 902.38,564.1 910.29,552.2 918.21,549.7 926.12,558.4 934.04,570.3 941.95,571.8 949.87,594.4 957.78,572.0 965.70,539.2 973.62,551.2 981.53,557.9 989.44,562.2 997.36,575.2 1005.27,581.8 1013.19,547.3 1021.11,549.0 1029.02,547.3 1036.93,554.5 1044.85,506.5 1052.77,505.8 1060.68,508.4 1068.60,506.5 1076.51,484.1 1084.43,487.0 1092.34,508.6 1100.26,516.4 1108.17,517.6 1116.09,530.5 1124.00,553.6 1131.92,522.6 1139.83,516.4 1147.75,521.9 1155.66,540.3 1163.58,545.6 1171.49,526.2 1179.41,516.8 1187.32,496.7 1195.24,489.2 1203.15,492.3 1211.07,505.3 1218.98,513.2 1226.90,491.3 1234.81,506.0 1242.73,504.6 1250.64,490.5 1258.56,502.0 1266.47,528.4 1274.38,537.0 1282.30,510.6 1290.22,474.3 1298.13,450.5 1306.05,452.3 1313.96,444.8 1321.88,448.7 1329.79,438.6 1337.71,448.7 1345.62,460.2 1353.54,456.3 1361.45,450.1 1369.37,446.8 1377.28,470.3 1385.20,478.2 1393.11,490.9 1401.03,503.4 1408.94,504.4 1416.86,509.2 1424.77,496.6 1432.69,504.9" fill="none" stroke="#9d57d2" stroke-width="1.3" stroke-linejoin="round"/>
<rect x="1281" y="431" width="206" height="88.7" fill="none" stroke="#9c27b0" stroke-width="2"/>
</g>
<text x="987" y="220.1" font-size="33" fill="#2962ff">Support</text>
<rect x="12.5" y="12.5" width="1575" height="639" fill="none" stroke="#e8e9ee" stroke-width="1"/>
<line x1="13" y1="416.5" x2="1587" y2="416.5" stroke="#e8e9ee" stroke-width="1"/>
<text transform="translate(1525.2,62.7) scale(1.0,1.09)" font-size="14" fill="#131722" >1.12000</text>
<text transform="translate(1525.2,126.7) scale(1.0,1.09)" font-size="14" fill="#131722" >1.10000</text>
<text transform="translate(1525.2,190.7) scale(1.0,1.09)" font-size="14" fill="#131722" >1.08000</text>
<text transform="translate(1525.2,253.7) scale(1.0,1.09)" font-size="14" fill="#131722" >1.06000</text>
<text transform="translate(1525.2,316.7) scale(1.0,1.09)" font-size="14" fill="#131722" >1.04000</text>
<text transform="translate(1525.2,380.7) scale(1.0,1.09)" font-size="14" fill="#131722" >1.02000</text>
<g clip-path="url(#ap)">
<text transform="translate(1525.2,424.9) scale(1.0,1.09)" font-size="14" fill="#131722" >80.00</text>
<text transform="translate(1525.2,492.7) scale(1.0,1.09)" font-size="14" fill="#131722" >60.00</text>
<text transform="translate(1525.2,560.5) scale(1.0,1.09)" font-size="14" fill="#131722" >40.00</text>
</g>
<path d="M1515,182.1 H1580.2 Q1582.2,182.1 1582.2,184.1 V199.9 Q1582.2,201.9 1580.2,201.9 H1515 Z" fill="#f23645"/>
<text transform="translate(1525.4,196.9) scale(1.0,1.09)" font-size="14" fill="#ffffff" stroke="#ffffff" stroke-width="0.3">1.07772</text>
<path d="M1515,201.9 H1580.2 Q1582.2,201.9 1582.2,203.9 V220 Q1582.2,222 1580.2,222 H1515 Z" fill="#ec407a"/>
<text transform="translate(1525.4,216.85) scale(1.0,1.09)" font-size="14" fill="#ffffff" stroke="#ffffff" stroke-width="0.3">1.07624</text>
<path d="M1515,229.2 H1580.2 Q1582.2,229.2 1582.2,231.2 V246.6 Q1582.2,248.6 1580.2,248.6 H1515 Z" fill="#2962ff"/>
<text transform="translate(1525.4,243.79999999999998) scale(1.0,1.09)" font-size="14" fill="#ffffff" stroke="#ffffff" stroke-width="0.3">1.06296</text>
<path d="M1515,495.2 H1564.7 Q1566.7,495.2 1566.7,497.2 V512.7 Q1566.7,514.7 1564.7,514.7 H1515 Z" fill="#9c50c6"/>
<text transform="translate(1525.4,509.85) scale(1.0,1.09)" font-size="14" fill="#ffffff" stroke="#ffffff" stroke-width="0.3">54.80</text>
<text transform="translate(78.5,640) scale(1.0,1.14)" font-size="13.2" fill="#131722" text-anchor="middle" >Aug</text>
<text transform="translate(253.5,640) scale(1.0,1.14)" font-size="13.2" fill="#131722" text-anchor="middle" >Sep</text>
<text transform="translate(419.5,640) scale(1.0,1.14)" font-size="13.2" fill="#131722" text-anchor="middle" >Oct</text>
<text transform="translate(601.5,640) scale(1.0,1.14)" font-size="13.2" fill="#131722" text-anchor="middle" >Nov</text>
<text transform="translate(767.5,640) scale(1.0,1.14)" font-size="13.2" fill="#131722" text-anchor="middle" >Dec</text>
<text transform="translate(941.5,640) scale(1.12,1.14)" font-size="13.2" fill="#131722" text-anchor="middle" font-weight="bold">2025</text>
<text transform="translate(1123,640) scale(1.0,1.14)" font-size="13.2" fill="#131722" text-anchor="middle" >Feb</text>
<text transform="translate(1281.5,640) scale(1.0,1.14)" font-size="13.2" fill="#131722" text-anchor="middle" >Mar</text>
<text transform="translate(1464.5,640) scale(1.0,1.14)" font-size="13.2" fill="#131722" text-anchor="middle" >Apr</text>
<text transform="translate(21.9,36.8) scale(1.0,1.2)" font-size="13.7" fill="#131722" >EUR/USD Spot, 1D</text>
<text transform="translate(148.9,36.8) scale(1.0,1.2)" font-size="13.7" fill="#131722" >O</text>
<text transform="translate(160.3,36.8) scale(1.0,1.2)" font-size="13.7" fill="#f23645" >1.07993</text>
<text transform="translate(218,36.8) scale(1.0,1.2)" font-size="13.7" fill="#131722" >H</text>
<text transform="translate(228.9,36.8) scale(1.0,1.2)" font-size="13.7" fill="#f23645" >1.08014</text>
<text transform="translate(287.5,36.8) scale(1.0,1.2)" font-size="13.7" fill="#131722" >L</text>
<text transform="translate(295.4,36.8) scale(1.0,1.2)" font-size="13.7" fill="#f23645" >1.07752</text>
<text transform="translate(354.9,36.8) scale(1.0,1.2)" font-size="13.7" fill="#131722" >C</text>
<text transform="translate(364.2,36.8) scale(1.0,1.2)" font-size="13.7" fill="#f23645" >1.07772</text>
<text transform="translate(423.1,36.8) scale(1.0,1.2)" font-size="13.7" fill="#f23645" >−0.00249 (−0.23%)</text>
<text transform="translate(21.9,56.8) scale(1.035,1.2)" font-size="13.7" fill="#131722" >EMA (20, close, 0)</text>
<text transform="translate(148.9,56.8) scale(1.0,1.2)" font-size="13.7" fill="#ec407a" >1.07624</text>
<text transform="translate(22.2,440.6) scale(1.0,1.2)" font-size="13.7" fill="#131722" >RSI (14)</text>
<text transform="translate(80.9,440.6) scale(1.05,1.2)" font-size="13.7" fill="#9c50c6" >54.80</text>
<g transform="translate(12.5,663.6) scale(0.655)" fill="#131722"><path d="M14 22H7V11H0V4h14v18zM28 22h-8l7.5-18h8L28 22z"/><circle cx="20" cy="8" r="4"/></g>
<text transform="translate(41.2,678) scale(1.0,1.0)" font-size="15.1" fill="#1e222d" stroke="#1e222d" stroke-width="0.25">TradingView</text>
</svg></body></html>
